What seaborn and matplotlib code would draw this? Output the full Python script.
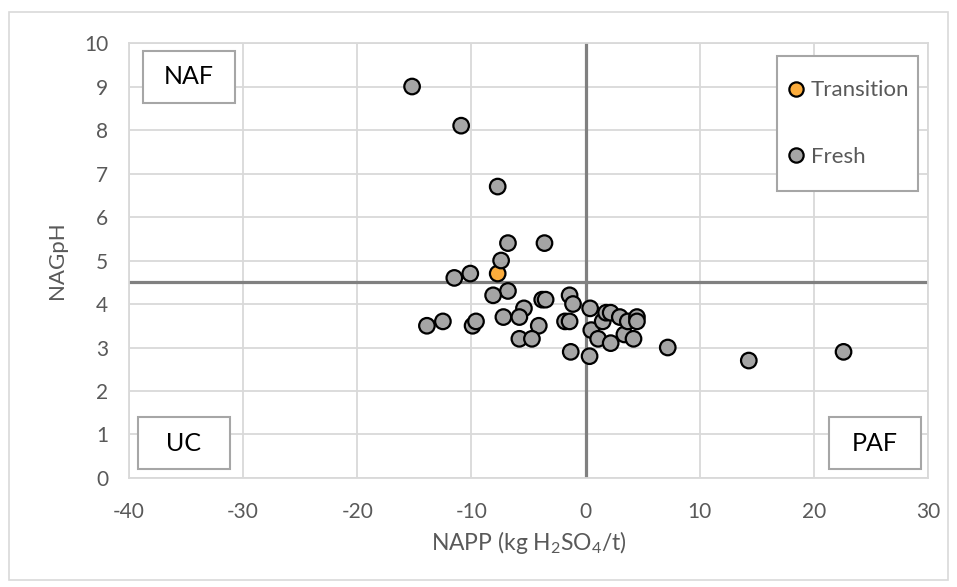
import matplotlib
matplotlib.use("Agg")
import matplotlib.pyplot as plt
from matplotlib.patches import Rectangle
import pandas as pd
import seaborn as sns

# NAPP (kg H2SO4/t) vs NAGpH
napp = [-7.7,
        -15.2, -10.9, -7.7, -6.8, -3.6, -7.4, -10.1, -11.5, -6.8, -8.1,
        -1.4, -3.8, -3.5, -1.1, -5.4, -7.2, -5.8, -4.1, -13.9, -12.5,
        -9.9, -9.6, -5.8, -4.7, -1.8, -1.4, -1.3, 0.4, 0.5, 0.35,
        1.1, 1.5, 1.8, 2.2, 2.2, 3.0, 3.4, 3.7, 4.5, 4.5,
        4.2, 7.2, 14.3, 22.6]
nagph = [4.7,
         9.0, 8.1, 6.7, 5.4, 5.4, 5.0, 4.7, 4.6, 4.3, 4.2,
         4.2, 4.1, 4.1, 4.0, 3.9, 3.7, 3.7, 3.5, 3.5, 3.6,
         3.5, 3.6, 3.2, 3.2, 3.6, 3.6, 2.9, 3.9, 3.4, 2.8,
         3.2, 3.6, 3.8, 3.8, 3.1, 3.7, 3.3, 3.6, 3.7, 3.6,
         3.2, 3.0, 2.7, 2.9]
groups = ["Transition"] + ["Fresh"] * 44

series_order = ["Transition", "Fresh"]
series_colors = {"Transition": "#fbac3c", "Fresh": "#a5a5a5"}

x_ticks = [-40, -30, -20, -10, 0, 10, 20, 30]
y_ticks = list(range(0, 11))

df = pd.DataFrame({"NAPP": napp, "NAGpH": nagph, "Group": groups})

sns.set_style("whitegrid")
plt.rcParams["font.family"] = ["Lato", "DejaVu Sans"]
plt.rcParams["mathtext.fontset"] = "custom"
plt.rcParams["mathtext.rm"] = "Lato"
plt.rcParams["mathtext.it"] = "Lato"
plt.rcParams["axes.unicode_minus"] = False

text_grey = "#595959"
grid_grey = "#d9d9d9"
box_grey = "#a6a6a6"

fig = plt.figure(figsize=(9.57, 5.87), dpi=100)
ax = fig.add_axes([0.1348, 0.1857, 0.8349, 0.741])

# outer chart border
fig.patches.append(Rectangle((0.009, 0.012), 0.982, 0.968, transform=fig.transFigure,
                             fill=False, edgecolor=grid_grey, linewidth=1.2))

ax.axvline(0, color="#808080", linewidth=2.3, zorder=1)
ax.axhline(4.5, color="#808080", linewidth=2.3, zorder=1)

sns.scatterplot(data=df, x="NAPP", y="NAGpH", hue="Group", hue_order=series_order,
                palette=series_colors, s=125, edgecolor="black", linewidth=1.6,
                zorder=3, ax=ax)

ax.set_xlim(-40, 30)
ax.set_ylim(0, 10)
ax.set_xticks(x_ticks)
ax.set_yticks(y_ticks)
ax.grid(True, color=grid_grey, linewidth=1.3)
for sp in ax.spines.values():
    sp.set_color(grid_grey)
    sp.set_linewidth(1.3)
ax.tick_params(length=0, labelsize=15, colors=text_grey)
ax.tick_params(axis="y", pad=15)
ax.tick_params(axis="x", pad=17)

ax.set_xlabel(r"NAPP (kg H$_2$SO$_4$/t)", fontsize=16.5, color=text_grey, labelpad=5)
ax.set_ylabel("NAGpH", fontsize=16, color=text_grey, labelpad=12)

# quadrant label boxes
quad_boxes = [("NAF", 0.0175, 0.863), ("UC", 0.0113, 0.0207), ("PAF", 0.876, 0.0207)]
for label, bx, by in quad_boxes:
    ax.add_patch(Rectangle((bx, by), 0.115, 0.119, transform=ax.transAxes,
                           facecolor="white", edgecolor=box_grey, linewidth=1.5, zorder=4))
    ax.text(bx + 0.0575, by + 0.0595, label, transform=ax.transAxes, ha="center",
            va="center", fontsize=18, color="black", zorder=5)

# legend box drawn separately so its padding can match the reference
ax.add_patch(Rectangle((0.8114, 0.660), 0.1757, 0.311, transform=ax.transAxes,
                       facecolor="white", edgecolor=box_grey, linewidth=1.5, zorder=4))
leg = ax.legend(loc="center left", bbox_to_anchor=(0.8273, 0.8145), frameon=False,
                fontsize=16, labelspacing=2.1, borderpad=0, borderaxespad=0,
                handlelength=0.55, handletextpad=0.39, markerscale=0.92, title=None)
leg.set_zorder(6)
for t in leg.get_texts():
    t.set_color(text_grey)

fig.savefig("out.png", dpi=100)
